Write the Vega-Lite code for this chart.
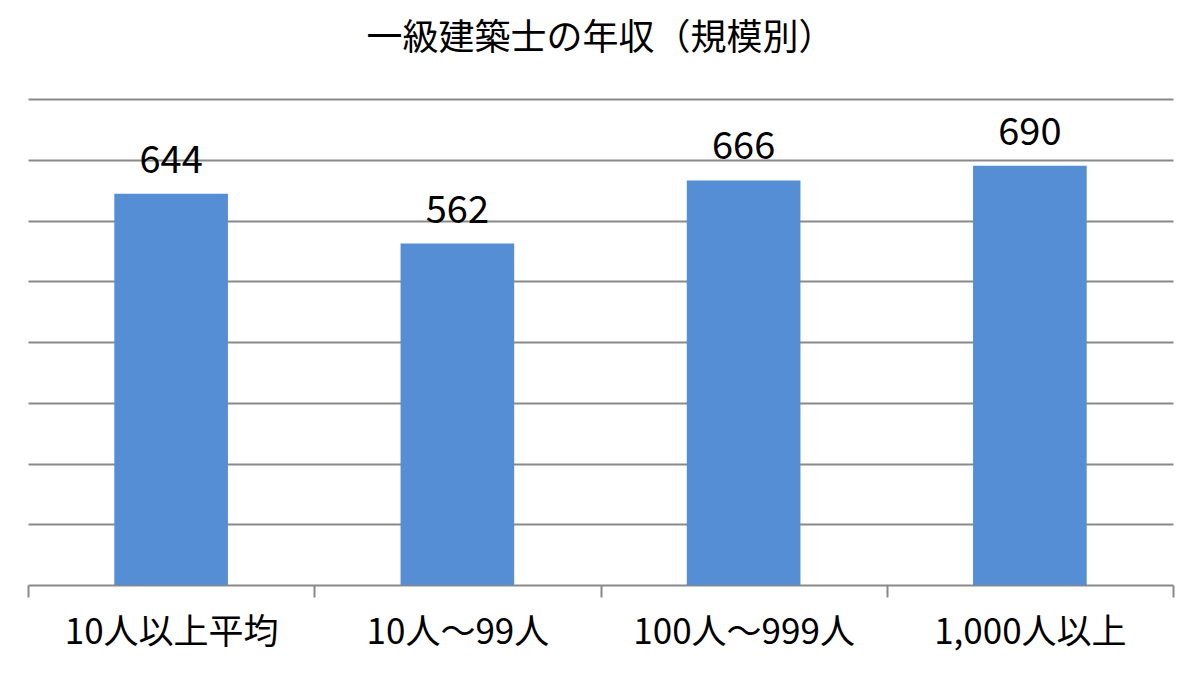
{
  "$schema": "https://vega.github.io/schema/vega-lite/v6.json",
  "width": 1145,
  "height": 486,
  "autosize": {"type": "none"},
  "padding": {"left": 28, "top": 99, "right": 28, "bottom": 88},
  "background": "white",
  "title": {
    "text": "一級建築士の年収（規模別）",
    "font": "Noto Sans CJK JP",
    "fontSize": 36,
    "fontWeight": "normal",
    "color": "#000000",
    "anchor": "middle",
    "baseline": "bottom",
    "offset": 5
  },
  "config": {
    "view": {"stroke": null},
    "font": "Noto Sans CJK JP"
  },
  "data": {
    "values": [
      {"category": "10人以上平均", "value": 644},
      {"category": "10人～99人", "value": 562},
      {"category": "100人～999人", "value": 666},
      {"category": "1,000人以上", "value": 690}
    ]
  },
  "encoding": {
    "x": {
      "field": "category",
      "type": "nominal",
      "sort": null,
      "scale": {"paddingInner": 0, "paddingOuter": 0},
      "axis": {
        "title": null,
        "labelAngle": 0,
        "labelFont": "Noto Sans CJK JP",
        "labelFontSize": 35,
        "labelLimit": 0,
        "labelColor": "#000000",
        "labelPadding": 18,
        "domainColor": "#898989",
        "domainWidth": 2,
        "tickColor": "#898989",
        "tickWidth": 2,
        "tickSize": 12,
        "tickBand": "extent",
        "grid": false
      }
    },
    "y": {
      "field": "value",
      "type": "quantitative",
      "scale": {"domain": [0, 800], "nice": false},
      "axis": {
        "title": null,
        "labels": false,
        "ticks": false,
        "domain": false,
        "grid": true,
        "gridColor": "#898989",
        "gridWidth": 2,
        "values": [100, 200, 300, 400, 500, 600, 700, 800]
      }
    }
  },
  "layer": [
    {
      "mark": {"type": "bar", "color": "#558ED5", "width": {"band": 0.397}}
    },
    {
      "mark": {
        "type": "text",
        "font": "Noto Sans CJK JP",
        "fontSize": 38,
        "color": "#000000",
        "baseline": "alphabetic",
        "dy": -21
      },
      "encoding": {"text": {"field": "value", "type": "quantitative"}}
    }
  ]
}
